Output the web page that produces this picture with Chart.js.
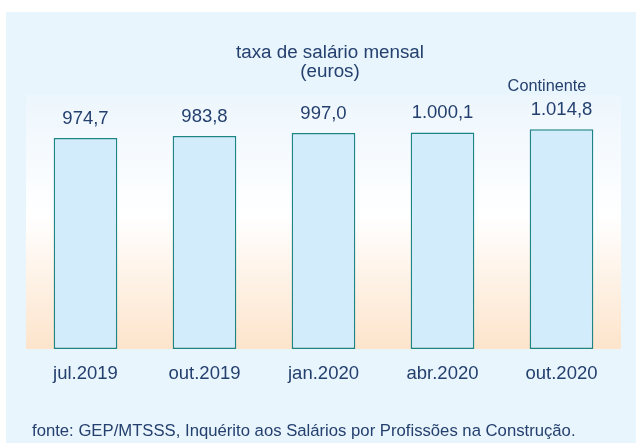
<!DOCTYPE html>
<html>
<head>
<meta charset="utf-8">
<script src="https://cdn.jsdelivr.net/npm/chart.js@4/dist/chart.umd.min.js"></script>
<style>
  body { margin: 0; background: #fff; }
  #wrap { width: 636px; height: 443px; }
</style>
</head>
<body>
<div id="wrap"><canvas id="salChart"></canvas></div>
<script>
const categories = ['jul.2019', 'out.2019', 'jan.2020', 'abr.2020', 'out.2020'];
const salaries = [974.7, 983.8, 997.0, 1000.1, 1014.8];
const titleLines = ['taxa de salário mensal', '(euros)'];
const regionLabel = 'Continente';
const sourceNote = 'fonte: GEP/MTSSS, Inquérito aos Salários por Profissões na Construção.';

const navy = '#24406e';
const fontFamily = "'Liberation Sans', Arial, sans-serif";

// 1014.8 -> "1.014,8"
function fmt(v) {
  const parts = v.toFixed(1).split('.');
  return parts[0].replace(/\B(?=(\d{3})+(?!\d))/g, '.') + ',' + parts[1];
}

const backdrop = {
  id: 'backdrop',
  beforeDraw(chart) {
    const { ctx, chartArea: a, width, height } = chart;
    ctx.save();
    ctx.fillStyle = '#ffffff';
    ctx.fillRect(0, 0, width, height);
    ctx.fillStyle = '#e9f5fd';
    ctx.fillRect(6, 12, width - 6, height - 12);
    const g = ctx.createLinearGradient(0, a.top, 0, a.bottom);
    g.addColorStop(0, '#edf6fd');
    g.addColorStop(0.48, '#ffffff');
    g.addColorStop(1, '#fde4cb');
    ctx.fillStyle = g;
    ctx.fillRect(a.left, a.top, a.right - a.left, a.bottom - a.top);
    ctx.restore();
  }
};

const texts = {
  id: 'texts',
  afterDatasetsDraw(chart) {
    const ctx = chart.ctx;
    const meta = chart.getDatasetMeta(0);
    ctx.save();
    ctx.fillStyle = navy;
    ctx.textAlign = 'center';
    ctx.textBaseline = 'alphabetic';
    ctx.font = '18.5px ' + fontFamily;
    meta.data.forEach((bar, i) => {
      ctx.fillText(fmt(salaries[i]), bar.x, bar.y - 14);
    });
    ctx.font = '18.8px ' + fontFamily;
    ctx.fillText(titleLines[0], 330, 58);
    ctx.fillText(titleLines[1], 330, 77);
    ctx.font = '16.3px ' + fontFamily;
    ctx.fillText(regionLabel, 547, 91);
    ctx.textAlign = 'left';
    ctx.font = '16.7px ' + fontFamily;
    ctx.fillText(sourceNote, 32, 436);
    ctx.restore();
  }
};

const ctx = document.getElementById('salChart').getContext('2d');
new Chart(ctx, {
  type: 'bar',
  data: {
    labels: categories,
    datasets: [{
      data: salaries,
      backgroundColor: '#d3ecfc',
      borderColor: '#1d8585',
      borderWidth: 1.5,
      borderSkipped: false,
      categoryPercentage: 1,
      barPercentage: 0.535
    }]
  },
  options: {
    responsive: true,
    maintainAspectRatio: false,
    animation: false,
    layout: { padding: { left: 26, right: 15, top: 95, bottom: 0 } },
    scales: {
      y: { display: false, min: 0, max: 1173 },
      x: {
        grid: { display: false, drawTicks: false },
        border: { display: false },
        ticks: {
          color: navy,
          padding: 14,
          font: { family: fontFamily, size: 18.5 }
        },
        afterFit(scale) { scale.height = 94; }
      }
    },
    plugins: {
      legend: { display: false },
      tooltip: { enabled: false }
    }
  },
  plugins: [backdrop, texts]
});
</script>
</body>
</html>
